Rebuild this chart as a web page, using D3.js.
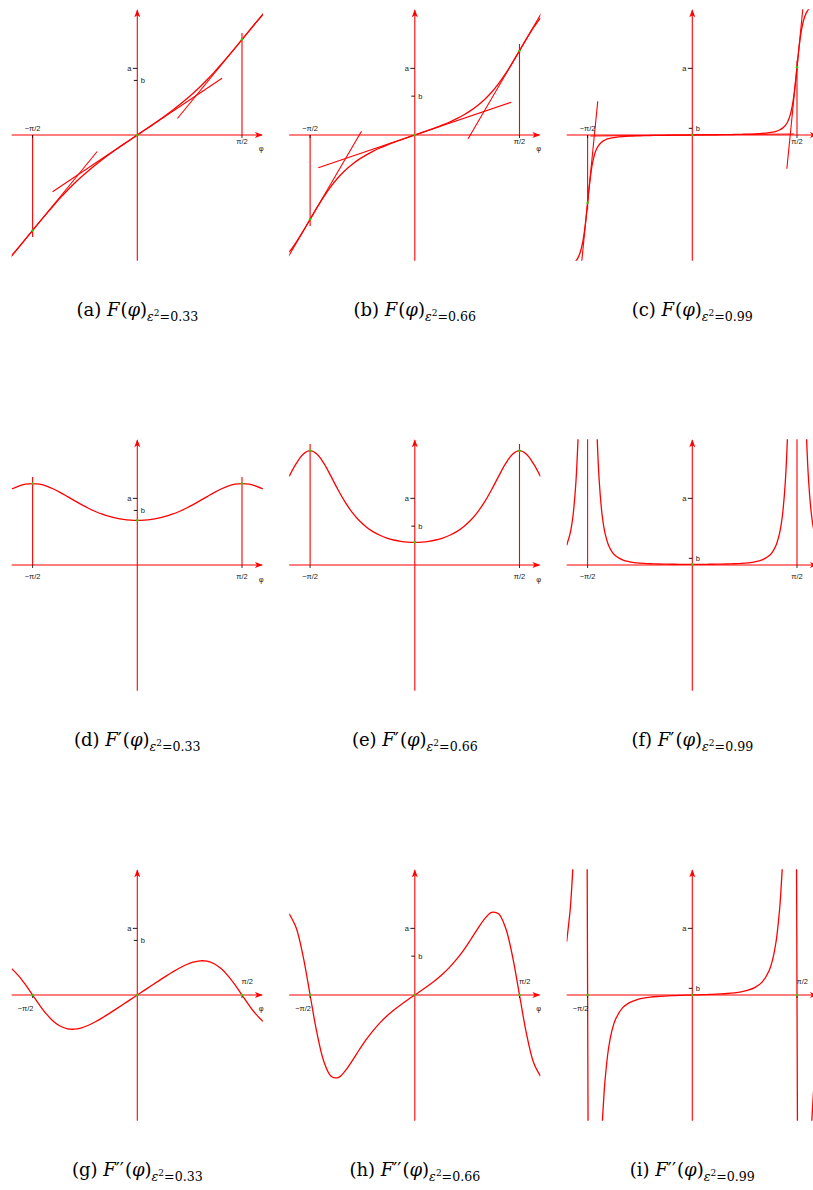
<!DOCTYPE html>
<html>
<head>
<meta charset="utf-8">
<script src="https://cdn.jsdelivr.net/npm/d3@7"></script>
<style>
  body { margin: 0; background: #fff; }
  .lbl { font-family: "Liberation Sans", Arial, sans-serif; font-size: 7.5px; fill: #222; }
  .caption { font-family: "DejaVu Serif", "Liberation Serif", serif; font-size: 18px; fill: #000; }
</style>
</head>
<body>
<script>
'use strict';

// angles in degrees (x axis), values in units of a
const phiStep6 = [-108,-102,-96,-90,-84,-78,-72,-66,-60,-54,-48,-42,-36,-30,-24,-18,-12,-6,0,
  6,12,18,24,30,36,42,48,54,60,66,72,78,84,90,96,102,108];

// eps^2 = 0.33
const F33 = [-1.807,-1.685,-1.559,-1.432,-1.304,-1.179,-1.057,-0.940,-0.830,-0.725,-0.627,-0.535,-0.449,-0.367,-0.289,-0.214,-0.141,-0.070,0,
  0.070,0.141,0.214,0.289,0.367,0.449,0.535,0.627,0.725,0.830,0.940,1.057,1.179,1.304,1.432,1.559,1.685,1.807];
const dF33 = [1.140,1.184,1.212,1.222,1.212,1.184,1.140,1.086,1.026,0.965,0.906,0.852,0.803,0.762,0.729,0.703,0.685,0.674,0.670,
  0.674,0.685,0.703,0.729,0.762,0.803,0.852,0.906,0.965,1.026,1.086,1.140,1.184,1.212,1.222,1.212,1.184,1.140];
const ddF33 = [0.396,0.288,0.152,0,-0.152,-0.288,-0.396,-0.469,-0.507,-0.513,-0.493,-0.454,-0.402,-0.341,-0.276,-0.208,-0.139,-0.069,0,
  0.069,0.139,0.208,0.276,0.341,0.402,0.454,0.493,0.513,0.507,0.469,0.396,0.288,0.152,0,-0.152,-0.288,-0.396];

// eps^2 = 0.66
const F66 = [-1.759,-1.610,-1.443,-1.265,-1.087,-0.920,-0.771,-0.642,-0.534,-0.443,-0.366,-0.301,-0.245,-0.195,-0.151,-0.110,-0.072,-0.036,0,
  0.036,0.072,0.110,0.151,0.195,0.245,0.301,0.366,0.443,0.534,0.642,0.771,0.920,1.087,1.265,1.443,1.610,1.759];
const dF66 = [1.329,1.520,1.662,1.715,1.662,1.520,1.329,1.129,0.947,0.794,0.671,0.575,0.501,0.446,0.404,0.375,0.355,0.344,0.340,
  0.344,0.355,0.375,0.404,0.446,0.501,0.575,0.671,0.794,0.947,1.129,1.329,1.520,1.662,1.715,1.662,1.520,1.329];
const ddF66 = [1.218,1.008,0.581,0,-0.581,-1.008,-1.218,-1.240,-1.143,-0.992,-0.829,-0.674,-0.537,-0.418,-0.315,-0.225,-0.145,-0.071,0,
  0.071,0.145,0.225,0.315,0.418,0.537,0.674,0.829,0.992,1.143,1.240,1.218,1.008,0.581,0,-0.581,-1.008,-1.218];

// eps^2 = 0.99 (denser near +-90)
const phi99 = [-108,-105,-104,-103,-102,-100,-98,-96,-94,-93,-92,-91,-90.5,-90,-89.5,-89,-88,-87,-86,-84,-82,-80,-78,-77,-76,-75,-72,-69,-66,-60,-54,-48,-42,-36,-30,-24,-18,-12,-6,0,
  6,12,18,24,30,36,42,48,54,60,66,69,72,75,76,77,78,80,82,84,86,87,88,89,89.5,90,90.5,91,92,93,94,96,98,100,102,103,104,105,108];
const F99 = [-1.976,-1.957,-1.948,-1.937,-1.924,-1.888,-1.832,-1.741,-1.589,-1.480,-1.346,-1.188,-1.103,-1.016,-0.929,-0.8441,-0.6863,-0.5517,-0.4426,-0.2906,-0.1996,-0.1439,-0.1083,-0.0952,-0.0843,-0.0753,-0.0556,-0.0428,-0.0343,-0.0235,-0.0172,-0.013,-0.0101,-0.0078,-0.0061,-0.0046,-0.0033,-0.0021,-0.001,0,
  0.001,0.0021,0.0033,0.0046,0.0061,0.0078,0.0101,0.013,0.0172,0.0235,0.0343,0.0428,0.0556,0.0753,0.0843,0.0952,0.1083,0.1439,0.1996,0.2906,0.4426,0.5517,0.6863,0.8441,0.929,1.016,1.103,1.188,1.346,1.480,1.589,1.741,1.832,1.888,1.924,1.937,1.948,1.957,1.976];
const dF99 = [0.2959,0.4743,0.5647,0.6787,0.8243,1.257,2.007,3.329,5.545,6.977,8.430,9.564,9.888,10,9.888,9.564,8.430,6.977,5.545,3.329,2.007,1.257,0.8243,0.6787,0.5647,0.4743,0.2959,0.1969,0.1380,0.0765,0.0479,0.0328,0.0241,0.0187,0.0153,0.0131,0.0116,0.0107,0.0102,0.010,
  0.0102,0.0107,0.0116,0.0131,0.0153,0.0187,0.0241,0.0328,0.0479,0.0765,0.1380,0.1969,0.2959,0.4743,0.5647,0.6787,0.8243,1.257,2.007,3.329,5.545,6.977,8.430,9.564,9.888,10,9.888,9.564,8.430,6.977,5.545,3.329,2.007,1.257,0.8243,0.6787,0.5647,0.4743,0.2959];
const ddF99 = [0.7987,1.2748,1.5103,1.8025,2.167,3.198,4.809,7.125,9.414,9.606,8.250,4.883,2.553,0,-2.553,-4.883,-8.250,-9.606,-9.414,-7.125,-4.809,-3.198,-2.167,-1.8025,-1.5103,-1.2748,-0.7987,-0.5283,-0.3654,-0.1940,-0.1140,-0.0719,-0.0476,-0.0326,-0.0227,-0.0158,-0.0106,-0.0066,-0.0032,0,
  0.0032,0.0066,0.0106,0.0158,0.0227,0.0326,0.0476,0.0719,0.1140,0.1940,0.3654,0.5283,0.7987,1.2748,1.5103,1.8025,2.167,3.198,4.809,7.125,9.414,9.606,8.250,4.883,2.553,0,-2.553,-4.883,-8.250,-9.606,-9.414,-7.125,-4.809,-3.198,-2.167,-1.8025,-1.5103,-1.2748,-0.7987];

const eps2Labels = ["0.33", "0.66", "0.99"];
const bValues = [0.819, 0.583, 0.1];   // b = a*sqrt(1-eps^2)
const aValue = 1;
const markPhi = [-90, 0, 90];           // marked points / tangent points
const panelLetters = [["a", "b", "c"], ["d", "e", "f"], ["g", "h", "i"]];
const primes = ["", "\u2032", "\u2032\u2032"];

(function () {

  let svgContainer = "";
  const unit = 66.65;                  // px per radian (and per a)
  const half = 0.6 * Math.PI * unit;   // half width of each plot window
  const colX = [137.3, 414.8, 692.3];
  const rowY = [135, 565, 995];
  const captionY = [316, 746, 1176];
  const red = "#ff0000";

  window.onload = function () {
    svgContainer = d3.select('body')
      .append('svg')
      .attr('width', 813)
      .attr('height', 1190)
      .style('background', '#fff');

    let columns = [
      { phi: phiStep6, f: F33, df: dF33, ddf: ddF33 },
      { phi: phiStep6, f: F66, df: dF66, ddf: ddF66 },
      { phi: phi99, f: F99, df: dF99, ddf: ddF99 }
    ];

    for (let r = 0; r < 3; r++) {
      for (let c = 0; c < 3; c++) {
        makePanel(r, c, columns[c]);
      }
    }
  }

  function makePanel(r, c, col) {
    let cx = colX[c], cy = rowY[r];
    let id = 'clip' + r + c;

    let xScale = d3.scaleLinear().domain([-108, 108]).range([cx - half, cx + half]);
    let yScale = d3.scaleLinear().domain([-0.6 * Math.PI, 0.6 * Math.PI]).range([cy + half, cy - half]);

    svgContainer.append('clipPath').attr('id', id)
      .append('rect')
      .attr('x', cx - half).attr('y', cy - half)
      .attr('width', 2 * half).attr('height', 2 * half);

    let g = svgContainer.append('g');
    let clipped = g.append('g').attr('clip-path', 'url(#' + id + ')');

    let values = [col.f, col.df, col.ddf][r];
    let valueAt = (p) => values[col.phi.indexOf(p)];

    drawAxes(g, cx, cy);

    // vertical markers at +-pi/2 (F and F' panels)
    if (r < 2) {
      [-90, 90].forEach(p => {
        let v = valueAt(p);
        clipped.append('line')
          .attr('x1', xScale(p)).attr('x2', xScale(p))
          .attr('y1', yScale(0)).attr('y2', yScale(v + Math.sign(v) * 0.1))
          .attr('stroke', red).attr('stroke-width', 1.1);
      });
    }

    // tangent lines on F panels
    if (r === 0) {
      let L = 1.53;
      markPhi.forEach(p => {
        let y0 = col.f[col.phi.indexOf(p)];
        let m = col.df[col.phi.indexOf(p)];
        let dx = L / Math.sqrt(1 + m * m);
        let dxDeg = dx * 180 / Math.PI;
        clipped.append('line')
          .attr('x1', xScale(p - dxDeg)).attr('y1', yScale(y0 - m * dx))
          .attr('x2', xScale(p + dxDeg)).attr('y2', yScale(y0 + m * dx))
          .attr('stroke', red).attr('stroke-width', 1.1);
      });
    }

    // the curve
    let line = d3.line()
      .x(d => xScale(d[0]))
      .y(d => yScale(d[1]))
      .curve(d3.curveCatmullRom.alpha(0.5));

    clipped.append('path')
      .datum(col.phi.map((p, i) => [p, values[i]]))
      .attr('d', line)
      .attr('fill', 'none')
      .attr('stroke', red)
      .attr('stroke-width', 1.3);

    // black ticks for a, b and +-pi/2
    let b = bValues[c];
    g.append('line').attr('x1', cx - 4.5).attr('x2', cx)
      .attr('y1', yScale(aValue)).attr('y2', yScale(aValue))
      .attr('stroke', '#000').attr('stroke-width', 0.9);
    g.append('line').attr('x1', cx - 3.5).attr('x2', cx)
      .attr('y1', yScale(b)).attr('y2', yScale(b))
      .attr('stroke', '#000').attr('stroke-width', 0.9);
    [-90, 90].forEach(p => {
      g.append('line').attr('x1', xScale(p)).attr('x2', xScale(p))
        .attr('y1', cy).attr('y2', cy + 3)
        .attr('stroke', '#000').attr('stroke-width', 0.8);
    });

    g.append('text').attr('class', 'lbl')
      .attr('x', cx - 6).attr('y', yScale(aValue)).attr('dy', '0.33em')
      .attr('text-anchor', 'end').text('a');
    g.append('text').attr('class', 'lbl')
      .attr('x', cx + 3.5).attr('y', yScale(b)).attr('dy', '0.33em')
      .text('b');

    // +-pi/2 labels
    let lx = [0, 0], ly = [-6.7, 6.7];
    if (r === 1) { ly = [11.3, 11.3]; }
    if (r === 2) { lx = [-7, 5.3]; ly = [13.3, -13.3]; }
    ['\u2212\u03c0/2', '\u03c0/2'].forEach((t, i) => {
      g.append('text').attr('class', 'lbl')
        .attr('x', xScale(markPhi[i * 2]) + lx[i])
        .attr('y', cy + ly[i]).attr('dy', '0.33em')
        .attr('text-anchor', 'middle').text(t);
    });
    // phi label at the arrow (falls outside the page for the last column)
    if (c < 2) {
      g.append('text').attr('class', 'lbl')
        .attr('x', cx + 124).attr('y', cy + (r === 1 ? 15 : 13.3)).attr('dy', '0.33em')
        .attr('text-anchor', 'middle').text('\u03c6');
    }

    // green marked points
    markPhi.forEach(p => {
      let v = r === 2 ? 0 : valueAt(p);
      if (Math.abs(v) > 0.6 * Math.PI) return;
      g.append('circle')
        .attr('cx', xScale(p)).attr('cy', yScale(v))
        .attr('r', 1.3).attr('fill', '#33cc00');
    });

    makeCaption(r, c);
  }

  function drawAxes(g, cx, cy) {
    g.append('line')
      .attr('x1', cx - half).attr('x2', cx + half - 1)
      .attr('y1', cy).attr('y2', cy)
      .attr('stroke', red).attr('stroke-width', 1.1);
    g.append('line')
      .attr('x1', cx).attr('x2', cx)
      .attr('y1', cy + half).attr('y2', cy - half + 1)
      .attr('stroke', red).attr('stroke-width', 1.1);

    // arrow heads
    let ax = cx + half, ay = cy - half;
    g.append('path')
      .attr('d', `M${ax},${cy} L${ax - 8},${cy - 3} L${ax - 6},${cy} L${ax - 8},${cy + 3} Z`)
      .attr('fill', red);
    g.append('path')
      .attr('d', `M${cx},${ay} L${cx - 3},${ay + 8} L${cx},${ay + 6} L${cx + 3},${ay + 8} Z`)
      .attr('fill', red);
  }

  // caption like "(a) F(phi)_{eps^2=0.33}"
  function makeCaption(r, c) {
    let t = svgContainer.append('text')
      .attr('class', 'caption')
      .attr('x', colX[c]).attr('y', captionY[r])
      .attr('text-anchor', 'middle');
    t.append('tspan').text('(' + panelLetters[r][c] + ') ');
    t.append('tspan').style('font-style', 'italic').text('F');
    if (r > 0) t.append('tspan').text(primes[r]);
    t.append('tspan').attr('dx', 1).text('(');
    t.append('tspan').style('font-style', 'italic').text('\u03c6');
    t.append('tspan').text(')');
    t.append('tspan').attr('font-size', 12.6).attr('dy', 4.7).style('font-style', 'italic').text('\u03b5');
    t.append('tspan').attr('font-size', 9).attr('dy', -4.5).text('2');
    t.append('tspan').attr('font-size', 12.6).attr('dy', 4.5).text('=' + eps2Labels[c]);
  }
})();
</script>
</body>
</html>
